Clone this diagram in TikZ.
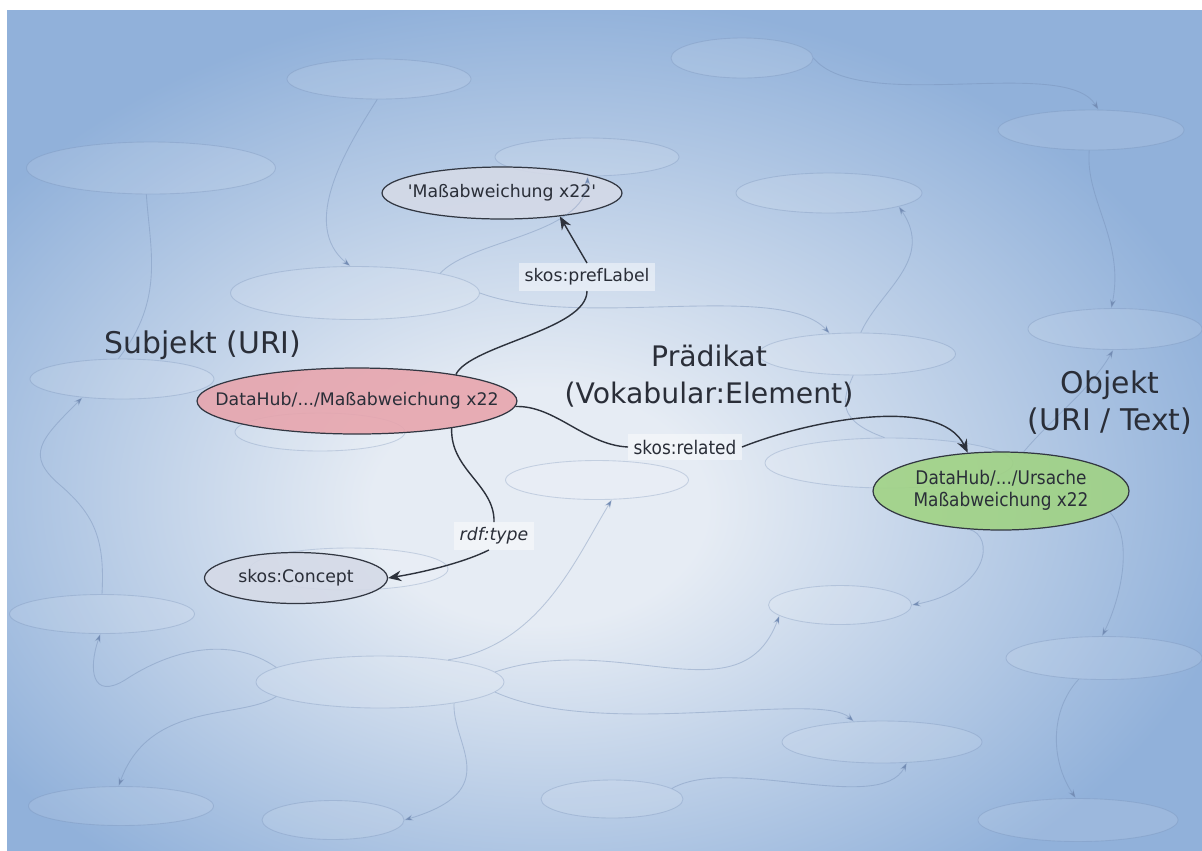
\documentclass[tikz,border=0pt]{standalone}
\usepackage{fontspec}
\setmainfont{DejaVu Sans}
\newfontfamily\condfont[FakeStretch=0.9]{DejaVu Sans}
\usetikzlibrary{shapes.geometric,arrows.meta}
\definecolor{bgin}{RGB}{230,236,244}
\definecolor{bgout}{RGB}{145,177,218}
\definecolor{ghostline}{RGB}{115,140,180}
\definecolor{nodeline}{RGB}{50,55,66}
\definecolor{edgecol}{RGB}{45,50,60}
\definecolor{txt}{RGB}{42,46,56}
\definecolor{subjred}{RGB}{232,164,172}
\definecolor{objgreen}{RGB}{160,211,130}
\definecolor{litgray}{RGB}{213,218,231}
\pgfdeclareradialshading{bgshade}{\pgfpoint{-3bp}{-5bp}}{color(0bp)=(bgin); color(7bp)=(bgin); color(29bp)=(bgout); color(80bp)=(bgout)}
\newcommand\trfont{\fontsize{9.85}{12}\selectfont}
\newcommand\cdfont{\condfont\fontsize{10.7}{12.3}\selectfont}
\newcommand\hdfont{\fontsize{17}{21}\selectfont}
\newcommand\pdfont{\fontsize{16.1}{21}\selectfont}
\newcommand\ctext[1]{\makebox[0pt]{#1}}

\begin{document}
\begin{tikzpicture}[x=0.02cm,y=-0.02cm,
  ghost/.style={ellipse,draw=ghostline,draw opacity=0.3,fill=white,fill opacity=0.1,line width=0.5pt,inner sep=0pt},
  ghostedge/.style={draw=ghostline,draw opacity=0.4,line width=0.5pt,-{Stealth[length=5pt,width=3.5pt]}},
  term/.style={ellipse,draw=nodeline,line width=0.7pt,fill opacity=0.88,draw opacity=1,text opacity=1,inner sep=0pt,text=txt,font=\trfont},
  rel/.style={draw=edgecol,line width=0.8pt},
  relarrow/.style={rel,-{Stealth[length=7.5pt,width=6pt]}},
  rellabel/.style={fill=white,fill opacity=0.45,text opacity=1,inner sep=3pt,text=txt,font=\trfont},
  head/.style={text=txt,font=\hdfont,align=center}]
\useasboundingbox (0,0) rectangle (1202,850);
\fill[white] (0,0) rectangle (1202,850);
\shade[shading=bgshade] (7,10) rectangle (1202,850);

\node[ghost,minimum width=3.68cm,minimum height=0.8cm] (g1) at (379,79) {};
\node[ghost,minimum width=4.98cm,minimum height=1.04cm] (g2) at (151,168) {};
\node[ghost,minimum width=2.84cm,minimum height=0.8cm] (g3) at (742,58) {};
\node[ghost,minimum width=3.72cm,minimum height=0.8cm] (g4) at (1091,130) {};
\node[ghost,minimum width=3.68cm,minimum height=0.76cm] (g5) at (587,157) {};
\node[ghost,minimum width=3.72cm,minimum height=0.8cm] (g6) at (829,193) {};
\node[ghost,minimum width=4.98cm,minimum height=1.06cm] (g7) at (355,293) {};
\node[ghost,minimum width=3.48cm,minimum height=0.82cm] (g8) at (1115,329) {};
\node[ghost,minimum width=3.94cm,minimum height=0.84cm] (g9) at (857,354) {};
\node[ghost,minimum width=3.68cm,minimum height=0.8cm] (g10) at (122,379) {};
\node[ghost,minimum width=4.96cm,minimum height=1cm] (g11) at (889,463) {};
\node[ghost,minimum width=3.66cm,minimum height=0.78cm] (g12) at (597,480) {};
\node[ghost,minimum width=3.96cm,minimum height=0.84cm] (g13) at (349,569) {};
\node[ghost,minimum width=2.86cm,minimum height=0.78cm] (g14) at (840,605) {};
\node[ghost,minimum width=3.7cm,minimum height=0.78cm] (g15) at (102,614) {};
\node[ghost,minimum width=4.96cm,minimum height=1.04cm] (g16) at (380,682) {};
\node[ghost,minimum width=3.92cm,minimum height=0.86cm] (g17) at (1104,658) {};
\node[ghost,minimum width=4cm,minimum height=0.84cm] (g18) at (882,742) {};
\node[ghost,minimum width=3.7cm,minimum height=0.78cm] (g19) at (121,806) {};
\node[ghost,minimum width=2.84cm,minimum height=0.78cm] (g20) at (333,820) {};
\node[ghost,minimum width=2.84cm,minimum height=0.76cm] (g21) at (612,799) {};
\node[ghost,minimum width=4cm,minimum height=0.86cm] (g22) at (1078,820) {};
\node[ghost,minimum width=3.4cm,minimum height=0.76cm] (g23) at (320,432) {};

\node[term,fill=subjred,minimum width=6.4cm,minimum height=1.32cm] (subj) at (357,401) {\ctext{DataHub/.../Maßabweichung x22}};
\node[term,fill=litgray,minimum width=4.8cm,minimum height=1.04cm] (pref) at (502,193) {\ctext{\textquotesingle Maßabweichung x22\textquotesingle}};
\node[term,fill=litgray,minimum width=3.66cm,minimum height=1.02cm] (concept) at (296,578) {\ctext{skos:Concept}};
\node[term,fill=objgreen,font=\cdfont,minimum width=5.12cm,minimum height=1.56cm] (obj) at (1001,491) {\ctext{\begin{tabular}{@{}c@{}}DataHub/.../Ursache\\Maßabweichung x22\end{tabular}}};

\draw[ghostedge] (g1.-95) .. controls (345,150) and (300,225) .. (g7.100);
\draw[ghostedge,-] (g2.-100) .. controls (150,250) and (165,300) .. (g10.100);
\draw[ghostedge] (g3.east) .. controls (860,115) and (1065,55) .. (g4.70);
\draw[ghostedge] (g4.-95) .. controls (1085,200) and (1125,240) .. (g8.100);
\draw[ghostedge] (g9.80) .. controls (880,290) and (935,260) .. (g6.-11);
\draw[ghostedge] (g7.east) .. controls (580,330) and (780,280) .. (g9.143);
\draw[ghostedge] (g7.13) .. controls (470,240) and (585,235) .. (g5.-88);
\draw[ghostedge] (g15.north) .. controls (105,540) and (95,515) .. (60,485) .. controls (25,455) and (40,440) .. (g10.-155);
\draw[ghostedge] (g16.172) .. controls (230,635) and (170,650) .. (125,680) .. controls (92,700) and (88,670) .. (g15.-95);
\draw[ghostedge] (g16.188) .. controls (240,720) and (150,700) .. (g19.97);
\draw[ghostedge] (g16.-16) .. controls (452,745) and (505,790) .. (g20.east);
\draw[ghostedge] (g16.-5) .. controls (600,740) and (820,690) .. (g18.144);
\draw[ghostedge] (g21.10) .. controls (730,755) and (880,815) .. (g18.-40);
\draw[ghostedge] (obj.-11) .. controls (1135,540) and (1120,600) .. (g17.95);
\draw[ghostedge] (g17.-140) .. controls (1050,710) and (1050,760) .. (g22.96);
\draw[ghostedge] (obj.-130) .. controls (995,535) and (990,590) .. (g14.east);
\draw[ghostedge] (g16.5) .. controls (620,630) and (740,720) .. (g14.-170);
\draw[ghostedge] (g16.18) .. controls (540,645) and (575,560) .. (g12.-53);
\draw[ghostedge,-] (g9.-100) .. controls (842,400) and (836,420) .. (g11.100);
\draw[ghostedge] (obj.60) .. controls (1050,420) and (1090,390) .. (g8.-95);

\node[rellabel] (lblpref) at (587,277) {skos:prefLabel};
\node[rellabel,font=\cdfont] (lblrel) at (685,447) {skos:related};
\node[rellabel] (lbltype) at (494,536) {\itshape rdf:type};

\node[head] (subjhd) at (203,345) {Subjekt (URI)};
\node[head,font=\pdfont] (predhd) at (709,376) {Prädikat\\(Vokabular:Element)};
\node[head] (objhd) at (1110,403) {Objekt\\(URI / Text)};

\draw[rel] (subj.15) .. controls (470,345) and (587,330) .. (lblpref.south);
\draw[relarrow] (lblpref.north) -- (pref.-22);
\draw[rel] (subj.-2) .. controls (555,405) and (585,445) .. (lblrel.west);
\draw[relarrow] (lblrel.east) .. controls (810,420) and (940,395) .. (obj.131);
\draw[rel] (subj.-16) .. controls (450,470) and (495,485) .. (lbltype.north);
\draw[relarrow] (lbltype.-110) .. controls (465,562) and (425,572) .. (concept.east);
\end{tikzpicture}
\end{document}
